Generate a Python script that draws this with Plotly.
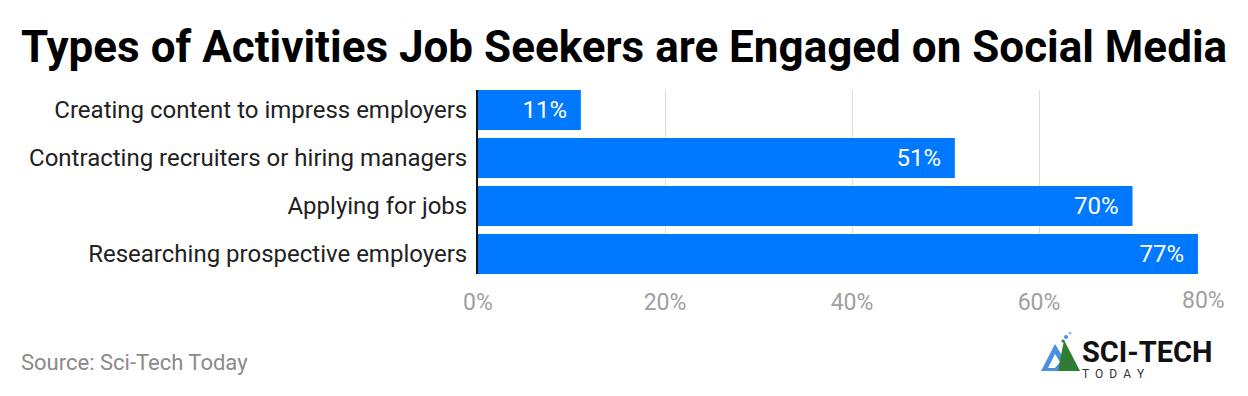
import plotly.graph_objects as go

categories = [
    "Creating content to impress employers",
    "Contracting recruiters or hiring managers",
    "Applying for jobs",
    "Researching prospective employers",
]
values = [11, 51, 70, 77]
value_labels = ["11%", "51%", "70%", "77%"]
tick_vals = [0, 20, 40, 60, 80]
tick_text = ["0%", "20%", "40%", "60%", "80%"]

TICK_FONT = dict(family="Roboto", size=23, color="#a0a0a0")

fig = go.Figure()
fig.add_trace(go.Bar(
    y=categories,
    x=values,
    orientation="h",
    marker=dict(color="#0078FF", line=dict(width=0)),
    text=[t + "\u00a0\u2009" for t in value_labels],
    textposition="inside",
    insidetextanchor="end",
    textfont=dict(family="Roboto", size=24, color="white"),
    cliponaxis=False,
    hoverinfo="skip",
))

# last tick label is right-aligned to its gridline (drawn as annotation below)
shown_ticktext = tick_text[:-1] + [""]

fig.update_layout(
    width=1248, height=396,
    margin=dict(l=478, r=22, t=90, b=122, autoexpand=False),
    paper_bgcolor="white", plot_bgcolor="white",
    bargap=1/6,
    showlegend=False,
    font=dict(family="Roboto", color="#222222"),
    title=dict(
        text="<b>Types of Activities Job Seekers are Engaged on Social Media</b>",
        x=0.5, xanchor="center", y=1 - 47/396, yanchor="middle",
        font=dict(family="Roboto", size=44, color="#000000"),
    ),
    xaxis=dict(
        range=[0, 80], automargin=False,
        tickvals=tick_vals, ticktext=shown_ticktext,
        showgrid=True, gridcolor="#dddddd", gridwidth=1,
        zeroline=False, showline=False,
        tickfont=TICK_FONT,
        ticks="", ticklabelstandoff=12,
        fixedrange=True,
    ),
    yaxis=dict(
        autorange=False, automargin=False,
        range=[3.5 - 1/12, -0.5 + 1/12],
        categoryorder="array", categoryarray=categories,
        tickfont=dict(family="Roboto", size=24, color="#222222"),
        ticks="", ticklabelstandoff=4,
        showline=True, linecolor="#111111", linewidth=2,
        showgrid=False, zeroline=False,
        fixedrange=True,
    ),
)

def px(xp):
    return (xp - 478) / 748

def py(yp):
    return (274 - yp) / 184

fig.add_annotation(
    text=tick_text[-1], xref="x", yref="paper",
    x=tick_vals[-1], y=py(300), xanchor="right", yanchor="middle",
    showarrow=False, font=TICK_FONT, borderpad=0,
)

fig.add_annotation(
    text="Source: Sci-Tech Today", xref="paper", yref="paper",
    x=px(19), y=py(362), xanchor="left", yanchor="middle",
    showarrow=False, font=dict(family="Roboto", size=22, color="#8a8a8a"),
)

# logo
fig.add_shape(type="path", xref="paper", yref="paper",
              path=f"M {px(1041)} {py(371)} L {px(1055)} {py(344)} L {px(1066)} {py(362)} L {px(1060)} {py(371)} Z",
              fillcolor="#4a8fe0", line=dict(width=0))
fig.add_shape(type="path", xref="paper", yref="paper",
              path=f"M {px(1048)} {py(368)} L {px(1055)} {py(354)} L {px(1060)} {py(362)} L {px(1055)} {py(368)} Z",
              fillcolor="white", line=dict(width=0))
fig.add_shape(type="path", xref="paper", yref="paper",
              path=f"M {px(1058)} {py(371)} L {px(1064)} {py(340)} L {px(1080)} {py(371)} Z",
              fillcolor="#2e7d32", line=dict(width=0))
for cx, cy, r, col in [(1066, 337, 2.0, "#4a8fe0"), (1070, 333, 1.5, "#8fb8ea"), (1063, 341, 1.5, "#2e7d32")]:
    fig.add_shape(type="circle", xref="paper", yref="paper",
                  x0=px(cx - r), x1=px(cx + r), y0=py(cy + r), y1=py(cy - r),
                  fillcolor=col, line=dict(width=0))
fig.add_annotation(
    text="<span style='font-size:29px;color:#111111'><b>SCI-TECH</b></span><br>T\u00a0\u00a0O\u00a0\u00a0D\u00a0\u00a0A\u00a0\u00a0Y",
    xref="paper", yref="paper",
    x=px(1080), y=py(358), xanchor="left", yanchor="middle", align="left",
    showarrow=False, font=dict(family="Roboto", size=12, color="#333333"),
)

fig.write_html(
    "out.html",
    config={"displayModeBar": False},
    post_script="document.body.style.margin='0';document.body.style.padding='0';",
)
